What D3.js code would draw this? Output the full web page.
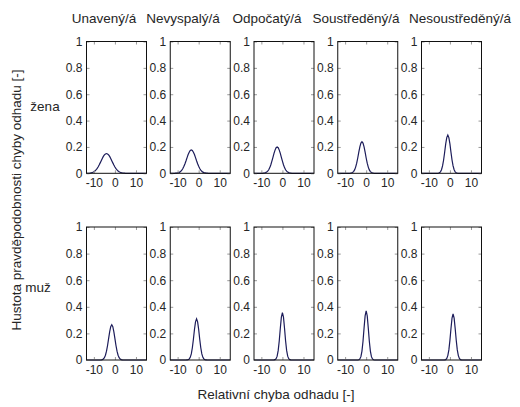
<!DOCTYPE html>
<html><head><meta charset="utf-8">
<script src="https://cdn.jsdelivr.net/npm/d3@7"></script>
<style>
html,body{margin:0;padding:0;background:#fff;}
text{font-family:"Liberation Sans",Arial,sans-serif;fill:#262626;}
</style></head>
<body><svg id="c" width="520" height="407"></svg>
<script>
const columns = ["Unavený/á","Nevyspalý/á","Odpočatý/á","Soustředěný/á","Nesoustředěný/á"];
const rows = ["žena","muž"];
const xTicks = [-10, 0, 10];
const xTickLabels = ["-10","0","10"];
const yTicks = [0, 0.2, 0.4, 0.6, 0.8, 1];
const yTickLabels = ["0","0.2","0.4","0.6","0.8","1"];
const xs = [-13.5,-12,-11.5,-11,-10.5,-10,-9.5,-9,-8.5,-8,-7.5,-7,-6.5,-6,-5.5,-5,-4.5,-4,-3.5,-3,-2.5,-2,-1.5,-1,-0.5,0,0.5,1,1.5,2,2.5,3,3.5,4,4.5,5,5.5,6,15];

const zenaUnaveny = [0,0.002,0.003,0.005,0.008,0.012,0.018,0.026,0.036,0.048,0.063,0.079,0.096,0.113,0.128,0.140,0.147,0.150,0.147,0.140,0.128,0.113,0.096,0.079,0.063,0.048,0.036,0.026,0.018,0.012,0.008,0.005,0.003,0.002,0.001,0,0,0,0];
const zenaNevyspaly = [0,0,0,0.001,0.001,0.003,0.005,0.009,0.015,0.024,0.036,0.053,0.073,0.095,0.119,0.142,0.160,0.173,0.177,0.173,0.160,0.142,0.119,0.095,0.073,0.053,0.036,0.024,0.015,0.009,0.005,0.003,0.001,0.001,0,0,0,0,0];
const zenaOdpocaty = [0,0,0,0,0,0,0,0.001,0.002,0.005,0.009,0.016,0.027,0.043,0.065,0.092,0.121,0.151,0.176,0.194,0.200,0.194,0.176,0.151,0.121,0.092,0.065,0.043,0.027,0.016,0.009,0.005,0.002,0.001,0,0,0,0,0];
const zenaSoustredeny = [0,0,0,0,0,0,0,0,0,0,0.001,0.003,0.006,0.013,0.026,0.047,0.077,0.116,0.160,0.200,0.229,0.240,0.229,0.200,0.160,0.116,0.077,0.047,0.026,0.013,0.006,0.003,0.001,0,0,0,0,0,0];
const zenaNesoustredeny = [0,0,0,0,0,0,0,0,0,0,0,0,0,0,0.001,0.004,0.011,0.027,0.056,0.101,0.160,0.223,0.271,0.290,0.271,0.223,0.160,0.101,0.056,0.027,0.011,0.004,0.001,0,0,0,0,0,0];
const muzUnaveny = [0,0,0,0,0,0,0,0,0,0,0,0,0.001,0.003,0.008,0.017,0.036,0.066,0.109,0.161,0.212,0.251,0.265,0.251,0.212,0.161,0.109,0.066,0.036,0.017,0.008,0.003,0.001,0,0,0,0,0,0];
const muzNevyspaly = [0,0,0,0,0,0,0,0,0,0,0,0,0,0,0.001,0.002,0.007,0.020,0.046,0.092,0.156,0.229,0.287,0.310,0.287,0.229,0.156,0.092,0.046,0.020,0.007,0.002,0.001,0,0,0,0,0,0];
const muzOdpocaty = [0,0,0,0,0,0,0,0,0,0,0,0,0,0,0,0,0,0.001,0.003,0.010,0.029,0.072,0.145,0.239,0.322,0.356,0.322,0.239,0.145,0.072,0.029,0.010,0.003,0.001,0,0,0,0,0];
const muzSoustredeny = [0,0,0,0,0,0,0,0,0,0,0,0,0,0,0,0,0,0,0.002,0.008,0.025,0.067,0.141,0.241,0.332,0.370,0.332,0.241,0.141,0.067,0.025,0.008,0.002,0,0,0,0,0,0];
const muzNesoustredeny = [0,0,0,0,0,0,0,0,0,0,0,0,0,0,0,0,0,0,0,0,0.001,0.003,0.012,0.033,0.076,0.148,0.237,0.315,0.346,0.315,0.237,0.148,0.076,0.033,0.012,0.003,0.001,0,0];

const series = [
  [zenaUnaveny, zenaNevyspaly, zenaOdpocaty, zenaSoustredeny, zenaNesoustredeny],
  [muzUnaveny, muzNevyspaly, muzOdpocaty, muzSoustredeny, muzNesoustredeny]
];

const svg = d3.select("#c");
const panelW = 60;
const colScale = d3.scalePoint().domain(columns).range([86.5, 421.5]);
const rowTop = [41.5, 227];
const rowBottom = [173.3, 360];
const FONT = '"Liberation Sans", Arial, sans-serif';

rows.forEach((rname, r) => {
  columns.forEach((cname, c) => {
    const left = colScale(cname);
    const x = d3.scaleLinear().domain([-13.5, 15]).range([left, left + panelW]);
    const y = d3.scaleLinear().domain([0, 1]).range([rowBottom[r], rowTop[r]]);
    const g = svg.append("g");

    g.append("path")
      .datum(xs.map((v, i) => [v, series[r][c][i]]))
      .attr("fill", "none")
      .attr("stroke", "#1c1c5a")
      .attr("stroke-width", 1.2)
      .attr("d", d3.line().x(d => x(d[0])).y(d => y(d[1])));

    const axL = g.append("g").attr("transform", `translate(${left},0)`)
      .call(d3.axisLeft(y).tickValues(yTicks).tickFormat((d, i) => yTickLabels[i])
        .tickSizeInner(-3).tickSizeOuter(0).tickPadding(4));
    const axR = g.append("g").attr("transform", `translate(${left + panelW},0)`)
      .call(d3.axisRight(y).tickValues(yTicks).tickFormat("")
        .tickSizeInner(-3).tickSizeOuter(0));
    const axB = g.append("g").attr("transform", `translate(0,${rowBottom[r]})`)
      .call(d3.axisBottom(x).tickValues(xTicks).tickFormat((d, i) => xTickLabels[i])
        .tickSizeInner(-3).tickSizeOuter(0).tickPadding(5));
    const axT = g.append("g").attr("transform", `translate(0,${rowTop[r]})`)
      .call(d3.axisTop(x).tickValues(xTicks).tickFormat("")
        .tickSizeInner(-3).tickSizeOuter(0));
    [axL, axR, axB, axT].forEach(a => {
      a.select(".domain").remove();
      a.selectAll(".tick line").attr("stroke", "#999");
      a.selectAll(".tick text").attr("font-size", 12).attr("fill", "#262626")
        .style("font-family", FONT);
    });

    g.append("rect")
      .attr("x", left).attr("y", rowTop[r])
      .attr("width", panelW).attr("height", rowBottom[r] - rowTop[r])
      .attr("fill", "none").attr("stroke", "#111").attr("stroke-width", 1);
  });
});

const titleCenters = [104, 183, 267, 356, 460];
svg.selectAll("text.coltitle").data(columns).enter().append("text")
  .attr("class", "coltitle")
  .attr("x", (d, i) => titleCenters[i]).attr("y", 23)
  .attr("text-anchor", "middle").attr("font-size", 13.5)
  .text(d => d);

svg.append("text").attr("x", 45).attr("y", 111).attr("text-anchor", "middle")
  .attr("font-size", 13.5).text(rows[0]);
svg.append("text").attr("x", 38).attr("y", 292).attr("text-anchor", "middle")
  .attr("font-size", 13.5).text(rows[1]);

svg.append("text").attr("transform", "translate(21,200) rotate(-90)")
  .attr("text-anchor", "middle").attr("font-size", 13.5)
  .text("Hustota pravděpodobnosti chyby odhadu [-]");
svg.append("text").attr("x", 276).attr("y", 399).attr("text-anchor", "middle")
  .attr("font-size", 13.5).text("Relativní chyba odhadu [-]");
</script></body></html>
